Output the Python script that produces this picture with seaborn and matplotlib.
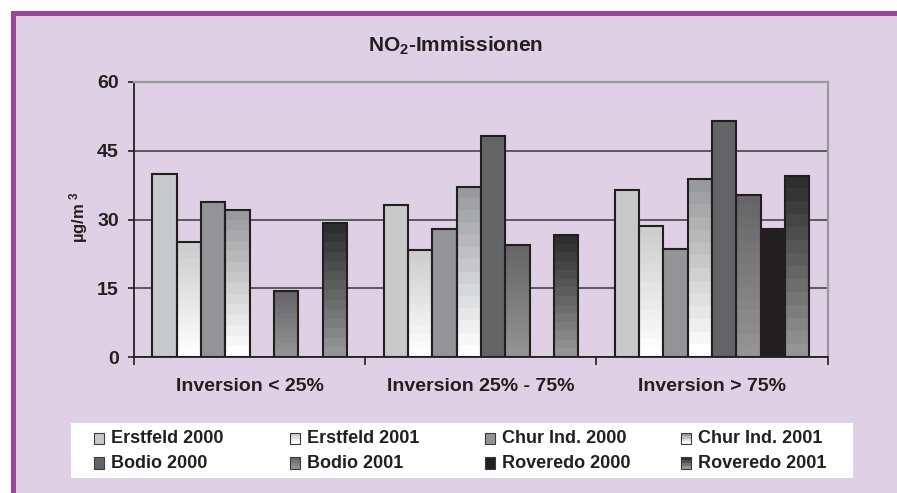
import numpy as np
import pandas as pd
import matplotlib
matplotlib.use('Agg')
import matplotlib.pyplot as plt
import seaborn as sns
from matplotlib.patches import Rectangle
from matplotlib.colors import LinearSegmentedColormap

# data
groups = ['Inversion < 25%', 'Inversion 25% - 75%', 'Inversion > 75%']
series = ['Erstfeld 2000', 'Erstfeld 2001', 'Chur Ind. 2000', 'Chur Ind. 2001',
          'Bodio 2000', 'Bodio 2001', 'Roveredo 2000', 'Roveredo 2001']
erstfeld_2000 = [40.0, 33.2, 36.4]
erstfeld_2001 = [25.0, 23.3, 28.6]
chur_2000 = [33.8, 27.9, 23.6]
chur_2001 = [32.1, 37.1, 38.8]
bodio_2000 = [np.nan, 48.2, 51.4]
bodio_2001 = [14.5, 24.4, 35.4]
roveredo_2000 = [np.nan, np.nan, 27.9]
roveredo_2001 = [29.2, 26.6, 39.6]
y_ticks = [0, 15, 30, 45, 60]

values = [erstfeld_2000, erstfeld_2001, chur_2000, chur_2001,
          bodio_2000, bodio_2001, roveredo_2000, roveredo_2001]
df = pd.DataFrame({
    'group': groups * len(series),
    'series': np.repeat(series, len(groups)),
    'value': np.concatenate(values),
})

# styles
INK = '#231F20'
LAV = '#DFD0E5'
PURPLE = '#9B4696'
solid = {'Erstfeld 2000': '#C8C9CB', 'Chur Ind. 2000': '#939497',
         'Bodio 2000': '#636466', 'Roveredo 2000': '#231F20'}
# (bottom colour, top colour) for banded fills
gradient = {'Erstfeld 2001': ('#FFFFFF', '#CDCDCE'),
            'Chur Ind. 2001': ('#FFFFFF', '#999A9D'),
            'Bodio 2001': ('#949495', '#666668'),
            'Roveredo 2001': ('#959596', '#2E2E2E')}
palette = {s: solid.get(s, gradient.get(s, ('#fff', '#fff'))[1]) for s in series}

plt.rcParams['font.family'] = 'Liberation Sans'
plt.rcParams['font.weight'] = 'bold'
plt.rcParams['mathtext.fontset'] = 'custom'
plt.rcParams['mathtext.rm'] = 'Liberation Sans:bold'
plt.rcParams['mathtext.bf'] = 'Liberation Sans:bold'
plt.rcParams['mathtext.default'] = 'bf'

W, H = 897, 493
fig = plt.figure(figsize=(W / 100, H / 100), dpi=100, facecolor='white')


def fx(x):
    return x / W


def fy(y):
    return 1 - y / H


# frame
fig.add_artist(Rectangle((fx(11), 0), 1, fy(11), transform=fig.transFigure,
                         facecolor=PURPLE, edgecolor='none', zorder=-3))
fig.add_artist(Rectangle((fx(16), 0), 1, fy(16), transform=fig.transFigure,
                         facecolor=LAV, edgecolor='none', zorder=-2))

ax = fig.add_axes([fx(134), fy(357), fx(827.7 - 134), (357 - 82) / H])
ax.set_facecolor('none')

sns.barplot(data=df, x='group', y='value', hue='series', order=groups,
            hue_order=series, palette=palette, saturation=1, width=0.842,
            edgecolor=INK, linewidth=1.5, errorbar=None, legend=False, ax=ax)

bands = np.linspace(0, 1, 14).reshape(-1, 1)
for name, cont in zip(series, ax.containers):
    if name not in gradient:
        continue
    cmap = LinearSegmentedColormap.from_list(name, gradient[name])
    for p in cont:
        h = p.get_height()
        if not np.isfinite(h) or h == 0:
            continue
        x0 = p.get_x()
        p.set_facecolor('none')
        im = ax.imshow(bands, cmap=cmap, origin='lower', aspect='auto',
                       interpolation='nearest',
                       extent=[x0, x0 + p.get_width(), 0, h],
                       zorder=p.get_zorder() - 0.05)
        im.set_clip_path(p)

ax.set_xlim(-0.5, 2.5)
ax.set_ylim(0, 60)
ax.set_axisbelow(True)
ax.yaxis.grid(True, color='#4F4F52', lw=1.3)
ax.xaxis.grid(False)

ax.set_yticks(y_ticks)
ax.set_yticklabels([str(t) for t in y_ticks], fontsize=14, fontweight='bold', color=INK)
ax.tick_params(axis='y', direction='out', length=4, width=1.2, color=INK, pad=7)
ax.set_xticks(range(len(groups)))
ax.set_xticklabels(groups, fontsize=14, fontweight='bold', color=INK)
ax.set_xticks([-0.5, 0.5, 1.5, 2.5], minor=True)
ax.tick_params(axis='x', which='major', length=0, pad=15)
ax.tick_params(axis='x', which='minor', direction='out', length=6, width=1.2, color=INK)
ax.set_xlabel('')
ax.set_ylabel(r'µg/m $^3$', fontsize=12, fontweight='bold', color=INK)
ax.yaxis.set_label_coords(-0.063, 0.51)

for side in ['left', 'bottom']:
    ax.spines[side].set_color(INK)
    ax.spines[side].set_linewidth(1.3)
for side in ['top', 'right']:
    ax.spines[side].set_color('#9A9A9C')
    ax.spines[side].set_linewidth(1.6)

fig.text(fx(456), fy(46), r'NO$_2$-Immissionen', ha='center', va='center',
         fontsize=15, fontweight='bold', color=INK)

# legend box, laid out like the original (4 columns, 2 rows)
fig.add_artist(Rectangle((fx(71), fy(478.3)), fx(852.7 - 71), (478.3 - 422.7) / H,
                         transform=fig.transFigure, facecolor='white',
                         edgecolor='none', zorder=1))
col_x = [93.5, 290.4, 485.3, 680.8]
row_y = [438.5, 463.0]
for i, name in enumerate(series):
    cx = col_x[i % 4]
    cy = row_y[i // 4]
    sw, sh = 10, 11.5
    if name in gradient:
        cmap = LinearSegmentedColormap.from_list(name, gradient[name])
        nb = 4
        for k in range(nb):
            fig.add_artist(Rectangle((fx(cx), fy(cy + sh / 2) + k * sh / nb / H),
                                     sw / W, sh / nb / H, transform=fig.transFigure,
                                     facecolor=cmap(k / (nb - 1)), edgecolor='none',
                                     zorder=2))
        fc = 'none'
    else:
        fc = solid[name]
    fig.add_artist(Rectangle((fx(cx), fy(cy + sh / 2)), sw / W, sh / H,
                             transform=fig.transFigure, facecolor=fc,
                             edgecolor='#3A3A3A', lw=0.8, zorder=3))
    fig.text(fx(cx + 17), fy(cy), name, ha='left', va='center', fontsize=13,
             fontweight='bold', color=INK, zorder=3)

fig.savefig('out.png', dpi=100, facecolor='white')
